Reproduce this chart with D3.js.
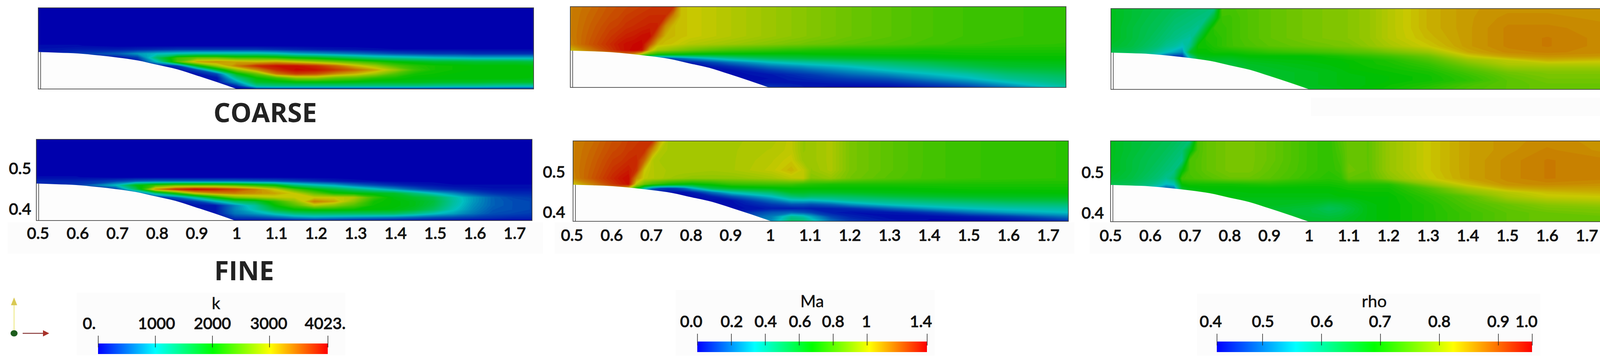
<!DOCTYPE html>
<html>
<head>
<meta charset="utf-8">
<script src="https://cdn.jsdelivr.net/npm/d3@7"></script>
<style>
  body { margin: 0; background: #fff; }
  svg { display: block; }
  .tick text { font-family: Lato, sans-serif; font-size: 41px; font-weight: 500; fill: #111; stroke: #111; stroke-width: 1.1px; }
  .legend-title { font-family: Lato, sans-serif; font-size: 43px; fill: #111; text-anchor: middle; stroke: #111; stroke-width: 0.6px; }
  .mesh-label { font-family: "Open Sans", sans-serif; font-size: 68px; font-weight: 700; fill: #222; text-anchor: middle; }
</style>
</head>
<body>
<div id="chart"></div>
<script>
// Grid the Ma and rho fields were read on
const flowCols = [.5,.55,.6,.62,.64,.66,.68,.7,.72,.74,.76,.78,.8,.85,.9,1,1.05,1.08,1.1,1.15,1.2,1.3,1.4,1.5,1.6,1.75];
const flowRows = [.573,.55,.525,.5,.48,.465,.455,.445,.435,.425,.415,.405,.395,.385,.373];
// Grid the k fields were read on
const kCols = [.5,.6,.7,.75,.8,.85,.9,.95,1,1.05,1.1,1.15,1.2,1.25,1.3,1.35,1.4,1.45,1.5,1.55,1.6,1.65,1.7,1.75];
const kRows = [.573,.5,.48,.47,.46,.45,.44,.43,.42,.41,.4,.39,.38,.373];

// Hump profile
const humpX = [.5,.55,.6,.65,.7,.75,.8,.85,.9,.95,1];
const humpY = [.464,.4625,.4605,.456,.4505,.4435,.4325,.4215,.406,.39,.373];

const kCoarse = [
  0,0,0,0,0,0,0,0,0,0,0,0,0,0,0,0,0,0,0,0,0,0,0,0,
  0,0,0,0,0,0,0,0,0,0,0,0,0,0,0,0,0,0,0,0,0,0,0,0,
  50,50,0,0,0,0,0,0,0,0,0,0,0,0,0,0,0,0,0,0,0,0,0,0,
  100,150,150,200,250,300,300,300,300,300,250,200,150,120,100,70,50,50,50,50,50,50,50,50,
  100,300,500,800,1000,1100,1200,1200,1200,1200,1100,900,800,700,600,500,400,350,300,300,250,250,250,250,
  100,100,100,300,1500,2300,2500,2500,2300,2300,2200,2000,1900,1700,1500,1300,1200,1100,1000,950,900,900,900,900,
  100,100,100,100,1000,2400,3200,3300,3200,3100,3200,3000,2800,2600,2400,2200,2000,1900,1800,1800,1750,1750,1750,1700,
  100,100,100,100,100,300,1900,2800,3400,3800,3950,3950,3800,3500,3100,2800,2400,2200,2100,2050,2000,2000,2000,1950,
  100,100,100,100,100,100,400,1700,2700,3300,3800,4000,3950,3750,3500,3200,2800,2300,2100,2050,2000,2000,2000,2000,
  100,100,100,100,100,100,100,400,1900,2500,3400,3700,3600,3300,3100,2800,2400,2100,2050,2000,2000,2000,2000,2000,
  100,100,100,100,100,100,100,100,1300,2000,2300,2700,2750,2500,2400,2200,2100,2000,2000,2000,2000,2000,2000,1950,
  100,100,100,100,100,100,100,100,800,1800,1900,2000,2000,2000,1950,1900,1900,1900,1850,1850,1850,1800,1800,1800,
  100,100,100,100,100,100,100,100,200,1200,1300,1300,1300,1300,1300,1300,1300,1300,1250,1200,1200,1150,1100,1100,
  100,100,100,100,100,100,100,100,0,200,200,200,200,200,200,200,200,200,200,200,200,200,200,200
];

const kFine = [
  0,0,0,0,0,0,0,0,0,0,0,0,0,0,0,0,0,0,0,0,0,0,0,0,
  0,0,0,0,0,0,0,0,0,0,0,0,0,0,0,0,0,0,0,0,0,0,0,0,
  50,50,0,0,0,0,0,0,0,0,0,0,0,0,0,0,0,0,0,0,0,0,0,0,
  200,200,350,500,550,550,550,550,550,500,450,350,250,150,80,50,20,20,20,20,20,20,20,20,
  200,300,1000,1900,2300,2500,2500,2500,2400,2200,2000,1400,1100,900,600,400,250,150,100,50,50,50,50,50,
  200,200,300,1500,3300,3800,4000,3900,3700,3400,3000,2400,2000,1700,1400,1100,800,500,300,200,150,100,100,100,
  200,200,300,300,1300,2100,3000,3300,3400,3300,3200,3000,2500,2100,2000,1900,1800,1400,1000,700,400,250,200,200,
  200,200,200,200,200,500,1200,2000,2600,2800,2950,3000,3000,3000,2900,2300,1950,1800,1600,1150,800,500,350,300,
  100,100,100,100,100,100,300,900,1500,1700,2200,2700,3400,3200,2700,2100,2000,1900,1700,1200,800,500,400,350,
  100,100,100,100,100,100,100,100,700,1200,2000,2400,2900,2700,2400,2050,2000,1900,1650,1150,750,500,400,350,
  100,100,100,100,100,100,100,100,700,1100,1700,2000,2100,2100,2050,2000,1950,1800,1500,1050,700,450,400,350,
  100,100,100,100,100,100,100,100,600,800,1100,1400,1500,1500,1500,1500,1500,1300,1050,850,600,400,350,300,
  100,100,100,100,100,100,100,100,300,350,500,700,800,750,700,650,600,500,400,350,300,250,200,200,
  100,100,100,100,100,100,100,100,100,100,120,150,200,180,150,150,120,100,100,80,50,50,50,50
];

const maCoarse = [
  1.14,1.17,1.21,1.22,1.23,1.24,1.25,1.26,1.27,1.27,1.27,1.03,1.02,1,.98,.94,.92,.91,.9,.88,.86,.83,.8,.78,.77,.76,
  1.14,1.18,1.22,1.23,1.25,1.26,1.27,1.28,1.28,1.28,1.13,1.03,1.02,1,.98,.94,.92,.91,.9,.88,.86,.83,.8,.78,.77,.76,
  1.14,1.19,1.24,1.25,1.27,1.28,1.29,1.3,1.3,1.12,1.04,1.03,1.02,1,.98,.94,.92,.91,.9,.88,.86,.83,.8,.78,.77,.76,
  1.14,1.2,1.26,1.28,1.3,1.31,1.33,1.34,1.18,1.05,1.04,1.03,1.02,1,.98,.94,.92,.91,.9,.88,.86,.83,.8,.78,.77,.76,
  1.13,1.21,1.28,1.31,1.33,1.34,1.35,1.22,1.05,1.03,1.02,1,.98,.96,.94,.9,.88,.87,.86,.85,.83,.81,.79,.77,.76,.75,
  1.03,1.15,1.26,1.3,1.33,1.35,1.33,1.06,.95,.93,.9,.88,.86,.82,.79,.76,.74,.74,.73,.72,.72,.72,.71,.72,.72,.72,
  1,1.05,1.1,1.12,1.15,1.1,.95,.8,.72,.7,.69,.68,.67,.66,.66,.66,.66,.66,.67,.68,.68,.69,.69,.7,.7,.7,
  1,1,1,.9,.7,.4,.15,.1,.08,.1,.15,.2,.25,.34,.42,.52,.55,.56,.57,.58,.6,.62,.65,.67,.68,.68,
  1,1,.8,.6,.4,.2,.05,.02,.02,.02,.02,.03,.05,.12,.2,.33,.37,.39,.4,.43,.46,.5,.55,.6,.63,.65,
  1,.8,.5,.3,.15,.05,.02,.02,.02,.02,.02,.02,.02,.04,.08,.2,.24,.26,.28,.31,.34,.42,.48,.55,.6,.62,
  .8,.4,.1,.05,.02,.02,.02,.02,.02,.02,.02,.02,.02,.02,.02,.1,.14,.16,.18,.22,.26,.34,.4,.47,.54,.58,
  .02,.02,.02,.02,.02,.02,.02,.02,.02,.02,.02,.02,.02,.02,.02,.04,.07,.09,.1,.14,.18,.24,.32,.38,.47,.53,
  .02,.02,.02,.02,.02,.02,.02,.02,.02,.02,.02,.02,.02,.02,.02,.03,.05,.06,.07,.09,.11,.15,.24,.32,.42,.49,
  .02,.02,.02,.02,.02,.02,.02,.02,.02,.02,.02,.02,.02,.02,.02,.04,.04,.04,.04,.05,.06,.08,.14,.22,.33,.46,
  .05,.05,.05,.05,.05,.05,.05,.05,.05,.05,.05,.05,.05,.05,.05,.1,.07,.05,.04,.02,.01,.01,.05,.1,.2,.38
];

const maFine = [
  1.14,1.17,1.22,1.23,1.25,1.26,1.27,1.27,1.06,.96,.96,.96,.96,.95,.96,.97,1,.93,.94,.97,.88,.83,.79,.77,.76,.75,
  1.14,1.18,1.23,1.24,1.26,1.27,1.28,1.12,.98,.96,.96,.96,.96,.95,.96,.98,1,.93,.94,.97,.88,.83,.79,.77,.76,.75,
  1.14,1.19,1.25,1.26,1.28,1.29,1.18,.98,.96,.96,.96,.96,.96,.95,.96,.99,1.02,.94,.94,.97,.88,.83,.79,.77,.76,.75,
  1.14,1.2,1.27,1.29,1.31,1.27,1.02,.98,.97,.96,.96,.96,.96,.95,.96,1,1.05,1,.93,.97,.88,.83,.79,.77,.76,.75,
  1.13,1.21,1.29,1.32,1.34,1.12,1,.98,.97,.95,.94,.93,.92,.92,.92,.95,.99,1,.9,.93,.87,.82,.79,.77,.76,.75,
  1.02,1.14,1.26,1.3,1.33,.98,.85,.78,.74,.7,.68,.67,.66,.7,.76,.78,.78,.75,.74,.72,.72,.72,.72,.72,.72,.72,
  1,1.05,1.1,1.1,1,.7,.4,.2,.12,.1,.12,.18,.3,.55,.62,.66,.68,.68,.68,.68,.68,.68,.69,.7,.7,.7,
  1,1,1,.9,.6,.3,.05,.03,.03,.03,.03,.03,.05,.2,.36,.5,.62,.62,.61,.62,.63,.65,.66,.67,.67,.68,
  1,1,.7,.4,.2,.05,.02,.02,.02,.02,.02,.02,.02,.05,.15,.34,.48,.52,.5,.5,.52,.57,.6,.62,.63,.64,
  1,.7,.3,.1,.02,.02,.02,.02,.02,.02,.02,.02,.02,.02,.03,.2,.32,.33,.32,.37,.42,.46,.5,.53,.56,.57,
  .8,.3,.05,.02,.02,.02,.02,.02,.02,.02,.02,.02,.02,.02,.02,.1,.15,.15,.14,.18,.26,.36,.4,.43,.46,.48,
  .02,.02,.02,.02,.02,.02,.02,.02,.02,.02,.02,.02,.02,.02,.02,.05,.05,.06,.05,.06,.08,.18,.28,.34,.37,.4,
  .05,.05,.05,.05,.05,.05,.05,.05,.05,.05,.05,.05,.05,.05,.05,.15,.18,.15,.12,.05,.03,.04,.1,.2,.28,.34,
  .1,.1,.1,.1,.1,.1,.1,.1,.1,.1,.1,.1,.1,.1,.1,.22,.42,.38,.3,.12,.06,.02,.02,.05,.1,.22,
  .15,.15,.15,.15,.15,.15,.15,.15,.15,.15,.15,.15,.15,.15,.15,.25,.5,.48,.4,.2,.1,.04,.01,0,.01,.08
];

const rhoCoarse = [
  .67,.655,.645,.64,.635,.63,.625,.62,.615,.61,.605,.74,.735,.745,.755,.77,.775,.775,.78,.79,.81,.84,.855,.86,.86,.86,
  .67,.655,.64,.635,.63,.62,.615,.61,.605,.6,.66,.73,.73,.745,.755,.77,.775,.775,.78,.79,.81,.84,.855,.865,.865,.86,
  .67,.65,.635,.63,.62,.61,.605,.6,.59,.66,.72,.72,.73,.745,.755,.77,.775,.775,.78,.79,.81,.84,.855,.87,.87,.865,
  .67,.65,.63,.62,.61,.6,.59,.58,.65,.71,.71,.72,.73,.745,.755,.77,.775,.775,.78,.79,.81,.835,.855,.87,.875,.865,
  .66,.645,.62,.61,.59,.58,.56,.6,.7,.7,.71,.72,.73,.74,.75,.76,.765,.77,.77,.785,.8,.825,.855,.87,.875,.865,
  .64,.63,.6,.58,.56,.54,.52,.66,.69,.69,.7,.7,.7,.71,.72,.73,.735,.74,.745,.75,.765,.79,.845,.865,.87,.865,
  .6,.6,.56,.52,.48,.46,.46,.6,.67,.68,.68,.68,.68,.69,.69,.69,.7,.705,.71,.72,.73,.76,.82,.85,.86,.855,
  .6,.6,.55,.5,.46,.45,.46,.55,.64,.66,.66,.66,.66,.675,.68,.685,.69,.69,.695,.7,.71,.74,.79,.815,.84,.83,
  .6,.6,.58,.55,.5,.5,.55,.6,.62,.64,.65,.65,.65,.665,.67,.68,.685,.69,.69,.7,.705,.725,.77,.805,.81,.81,
  .6,.6,.6,.6,.6,.6,.6,.6,.62,.64,.65,.65,.65,.66,.665,.675,.68,.685,.69,.695,.7,.715,.75,.785,.79,.79,
  .65,.65,.65,.65,.65,.65,.65,.65,.65,.65,.65,.65,.65,.66,.66,.67,.675,.68,.685,.69,.695,.705,.735,.765,.775,.775,
  .66,.66,.66,.66,.66,.66,.66,.66,.66,.66,.66,.66,.66,.66,.66,.67,.675,.68,.68,.685,.69,.7,.725,.755,.77,.77,
  .66,.66,.66,.66,.66,.66,.66,.66,.66,.66,.66,.66,.66,.66,.66,.67,.675,.68,.68,.685,.69,.7,.72,.75,.765,.765,
  .66,.66,.66,.66,.66,.66,.66,.66,.66,.66,.66,.66,.66,.66,.66,.67,.675,.68,.68,.685,.695,.71,.735,.75,.76,.76,
  .66,.66,.66,.66,.66,.66,.66,.66,.66,.66,.66,.66,.66,.66,.66,.66,.67,.675,.68,.69,.7,.72,.74,.75,.76,.76
];

const rhoFine = [
  .67,.655,.645,.64,.635,.63,.62,.61,.74,.755,.76,.765,.77,.77,.76,.73,.72,.745,.76,.755,.79,.825,.85,.86,.865,.86,
  .67,.655,.64,.635,.63,.62,.61,.67,.74,.755,.76,.765,.77,.77,.76,.73,.72,.74,.76,.755,.79,.825,.85,.86,.87,.86,
  .67,.65,.635,.63,.62,.61,.6,.74,.745,.755,.76,.765,.77,.77,.76,.73,.72,.735,.76,.755,.79,.825,.85,.865,.875,.87,
  .67,.65,.63,.62,.61,.6,.68,.74,.745,.755,.76,.765,.77,.77,.755,.73,.72,.73,.765,.755,.79,.825,.85,.865,.875,.87,
  .66,.645,.62,.61,.59,.62,.73,.735,.74,.745,.75,.755,.76,.76,.75,.725,.715,.72,.755,.75,.78,.82,.85,.865,.875,.87,
  .64,.63,.6,.58,.55,.56,.69,.7,.7,.7,.7,.7,.7,.705,.71,.7,.7,.705,.71,.71,.71,.78,.83,.86,.865,.86,
  .6,.6,.56,.52,.48,.5,.66,.68,.685,.69,.69,.69,.69,.69,.69,.69,.69,.695,.7,.7,.7,.74,.8,.84,.85,.85,
  .6,.6,.55,.52,.5,.52,.6,.66,.67,.68,.68,.68,.68,.685,.685,.685,.685,.69,.69,.695,.695,.73,.78,.81,.83,.84,
  .6,.6,.58,.58,.58,.6,.62,.66,.67,.68,.68,.68,.68,.68,.68,.68,.68,.685,.685,.69,.69,.72,.75,.8,.82,.825,
  .67,.67,.67,.67,.67,.67,.67,.67,.67,.67,.67,.67,.67,.67,.67,.67,.665,.67,.67,.685,.69,.715,.745,.78,.8,.81,
  .67,.67,.67,.67,.67,.67,.67,.67,.67,.67,.67,.67,.67,.67,.67,.66,.645,.65,.66,.68,.69,.71,.74,.76,.78,.79,
  .66,.66,.66,.66,.66,.66,.66,.66,.66,.66,.66,.66,.66,.66,.66,.65,.63,.64,.65,.68,.69,.71,.735,.755,.77,.775,
  .66,.66,.66,.66,.66,.66,.66,.66,.66,.66,.66,.66,.66,.66,.66,.65,.64,.645,.655,.68,.69,.71,.73,.75,.76,.77,
  .66,.66,.66,.66,.66,.66,.66,.66,.66,.66,.66,.66,.66,.66,.66,.655,.65,.655,.665,.68,.69,.71,.73,.75,.76,.76,
  .66,.66,.66,.66,.66,.66,.66,.66,.66,.66,.66,.66,.66,.66,.66,.66,.66,.665,.67,.68,.69,.71,.73,.75,.76,.76
];

// Colour bar ranges and tick labels
const kRange = [0, 4023];
const maRange = [0, 1.354];
const rhoRange = [.4226, .9575];
const kTicks = [0, 1000, 2000, 3000, 4023];
const kTickLabels = ["0.", "1000", "2000", "3000", "4023."];
const maTicks = [0, .2, .4, .6, .8, 1, 1.354];
const maTickLabels = ["0.0", "0.2", "0.4", "0.6", "0.8", "1", "1.4"];
const rhoTicks = [.4226, .5, .6, .7, .8, .9, .9575];
const rhoTickLabels = ["0.4", "0.5", "0.6", "0.7", "0.8", "0.9", "1.0"];

// Axis ticks
const xTicks = [.5,.6,.7,.8,.9,1,1.1,1.2,1.3,1.4,1.5,1.6,1.7];
const yTicks = [.5,.4];

// Rainbow of the bars, and the same rainbow darkened by the lighting on the surfaces
const barStops = ["#0000ff", "#00ffff", "#00ff00", "#ffff00", "#ff0000"];
const surfaceStops = ["#0000ad", "#00c0c0", "#00c000", "#c8c800", "#c80000"];

const width = 4142, height = 930;
const xDomain = [.5, 1.748];
const yDomain = [.373, .573];

const svg = d3.select("#chart").append("svg").attr("width", width).attr("height", height);
const defs = svg.append("defs");

// Faint lighter patches left behind the labels
const patches = [[20, 570, 1370, 80], [1420, 570, 1330, 80], [2790, 570, 1340, 80], [196, 750, 688, 160], [1730, 743, 663, 168], [3064, 752, 879, 159], [3356, 250, 745, 47]];
svg.selectAll("rect.patch").data(patches).join("rect").attr("class", "patch")
   .attr("x", d => d[0]).attr("y", d => d[1]).attr("width", d => d[2]).attr("height", d => d[3])
   .attr("fill", "#fcfcfc");

function colorScale(range) {
    const step = (range[1] - range[0]) / 4;
    return d3.scaleLinear().domain(d3.range(5).map(i => range[0] + i * step)).range(surfaceStops).clamp(true);
}

// One field panel: filled contours of the grid, then the hump on top
function drawPanel(id, box, values, cols, rows, range, axis) {
    if (values.length !== cols.length * rows.length) throw new Error(id + " has " + values.length + " values");

    const x = d3.scaleLinear().domain(xDomain).range([box.left, box.right]);
    const y = d3.scaleLinear().domain(yDomain).range([box.bottom, box.top]);
    const color = colorScale(range);

    // contour coordinates run in grid cells, sample i sits at i + 0.5
    const colAt = d3.scaleLinear().domain(cols.map((d, i) => i + .5)).range(cols);
    const rowAt = d3.scaleLinear().domain(rows.map((d, i) => i + .5)).range(rows);
    const path = d3.geoPath(d3.geoTransform({
        point(cx, cy) { this.stream.point(x(colAt(cx)), y(rowAt(cy))); }
    }));

    defs.append("clipPath").attr("id", "clip-" + id).append("rect")
        .attr("x", box.left).attr("y", box.top)
        .attr("width", box.right - box.left).attr("height", box.bottom - box.top);

    const step = (range[1] - range[0]) / 90;
    const thresholds = d3.range(range[0] + step, range[1], step);
    const contours = d3.contours().size([cols.length, rows.length]).smooth(true).thresholds(thresholds)(values);

    const g = svg.append("g").attr("clip-path", `url(#clip-${id})`);
    g.append("rect").attr("x", box.left).attr("y", box.top)
     .attr("width", box.right - box.left).attr("height", box.bottom - box.top)
     .attr("fill", color(range[0]));
    g.selectAll("path.band").data(contours).join("path").attr("class", "band")
     .attr("d", path)
     .attr("fill", d => color(d.value + step / 2));

    // hump
    const hump = d3.area().x(d => x(d[0])).y0(box.bottom).y1(d => y(d[1])).curve(d3.curveMonotoneX);
    g.append("path").attr("d", hump(d3.zip(humpX, humpY))).attr("fill", "#fdfdfd");

    // frame, with the inner wall line that shows inside the hump
    svg.append("rect").attr("x", box.left).attr("y", box.top)
       .attr("width", box.right - box.left).attr("height", box.bottom - box.top)
       .attr("fill", "none").attr("stroke", "#333").attr("stroke-width", 2).attr("opacity", .8);
    svg.append("line").attr("x1", box.left + 6).attr("x2", box.left + 6)
       .attr("y1", y(humpY[0])).attr("y2", box.bottom)
       .attr("stroke", "#444").attr("stroke-width", 2).attr("opacity", .8);

    if (axis) {
        const xAxis = svg.append("g").attr("transform", `translate(0,${box.bottom})`)
            .call(d3.axisBottom(x).tickValues(xTicks).tickFormat(d => d3.format("~g")(d)).tickSize(0).tickPadding(axis.xPad));
        xAxis.select(".domain").remove();
        xAxis.selectAll("text").attr("dx", axis.xDx);

        const yAxis = svg.append("g").attr("transform", `translate(${box.left},0)`)
            .call(d3.axisLeft(y).tickValues(yTicks).tickFormat(d3.format(".1f")).tickSize(0).tickPadding(axis.yPad));
        yAxis.select(".domain").remove();
        yAxis.selectAll("text").attr("dy", axis.yDy);
    }
}

drawPanel("k-coarse", {left: 98, right: 1366, top: 20, bottom: 228}, kCoarse, kCols, kRows, kRange);
drawPanel("k-fine", {left: 93, right: 1362, top: 357, bottom: 565}, kFine, kCols, kRows, kRange, {xPad: 18, xDx: 4, yPad: 13, yDy: 13});
drawPanel("ma-coarse", {left: 1460, right: 2729, top: 17, bottom: 224}, maCoarse, flowCols, flowRows, maRange);
drawPanel("ma-fine", {left: 1467, right: 2735, top: 361, bottom: 567}, maFine, flowCols, flowRows, maRange, {xPad: 21, xDx: -3, yPad: 20, yDy: 18});
drawPanel("rho-coarse", {left: 2844, right: 4112, top: 22, bottom: 229}, rhoCoarse, flowCols, flowRows, rhoRange);
drawPanel("rho-fine", {left: 2843, right: 4111, top: 361, bottom: 568}, rhoFine, flowCols, flowRows, rhoRange, {xPad: 21, xDx: 0, yPad: 17, yDy: 19});

// Colour bars
function drawColorBar(id, title, box, range, ticks, labels, labelShift, titleX) {
    const x = d3.scaleLinear().domain(range).range([box.left, box.right]);
    const grad = defs.append("linearGradient").attr("id", "bar-" + id);
    grad.selectAll("stop").data(barStops).join("stop")
        .attr("offset", (d, i) => i / 4).attr("stop-color", d => d);

    svg.append("rect").attr("x", box.left).attr("y", box.top)
       .attr("width", box.right - box.left).attr("height", 27)
       .attr("fill", `url(#bar-${id})`);

    const axis = svg.append("g").attr("transform", `translate(0,${box.top + 10})`)
        .call(d3.axisTop(x).tickValues(ticks).tickFormat((d, i) => labels[i]).tickSize(30).tickPadding(17));
    axis.select(".domain").remove();
    axis.selectAll("line").attr("stroke", "#222").attr("stroke-width", 1.5);
    axis.selectAll("text").attr("dx", (d, i) => labelShift[i] || 0);

    svg.append("text").attr("class", "legend-title").attr("x", titleX).attr("y", box.top - 88).text(title);
}

drawColorBar("k", "k", {left: 251, right: 839, top: 880}, kRange, kTicks, kTickLabels, [-23, 3, 0, -2, -7], 553);
drawColorBar("ma", "Ma", {left: 1785, right: 2373, top: 875}, maRange, maTicks, maTickLabels, [-16, 1, 1, 2, 0, -2, -16], 2079);
drawColorBar("rho", "rho", {left: 3115, right: 3922, top: 875}, rhoRange, rhoTicks, rhoTickLabels, [-16, 1, 1, -1, 0, 0, -15], 3518);

// Mesh labels
svg.append("text").attr("class", "mesh-label").attr("x", 679).attr("y", 313).text("COARSE");
svg.append("text").attr("class", "mesh-label").attr("x", 625).attr("y", 718).text("FINE");

// Orientation triad
const triad = svg.append("g");
triad.append("line").attr("x1", 36).attr("x2", 36).attr("y1", 848).attr("y2", 775).attr("stroke", "#ece77a").attr("stroke-width", 2);
triad.append("path").attr("d", "M36,762 L44,782 L28,782 Z").attr("fill", "#d9c954");
triad.append("line").attr("x1", 58).attr("x2", 112).attr("y1", 854).attr("y2", 854).attr("stroke", "#8a3a3a").attr("stroke-width", 2.5);
triad.append("path").attr("d", "M126,854 L110,846 L110,862 Z").attr("fill", "#a8322a");
triad.append("ellipse").attr("cx", 36).attr("cy", 854).attr("rx", 9).attr("ry", 8).attr("fill", "#1c5c1c");
</script>
</body>
</html>
